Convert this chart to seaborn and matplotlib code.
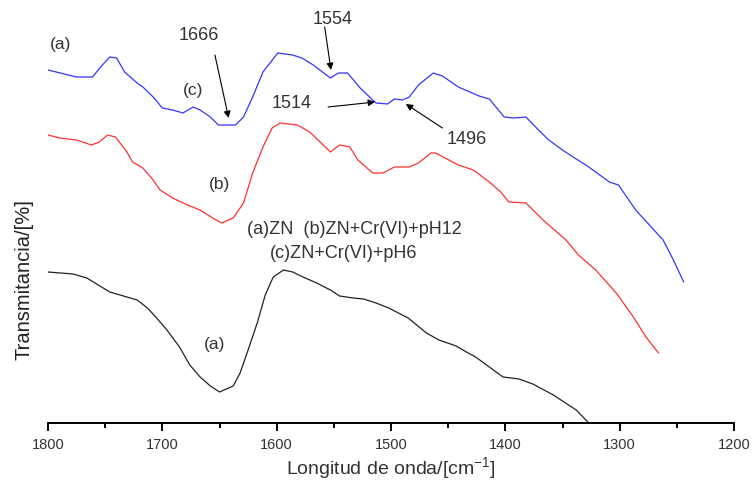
import pandas as pd
import matplotlib
matplotlib.use("Agg")
import matplotlib.pyplot as plt
import seaborn as sns

# FTIR spectra (wavenumber in cm-1, transmittance in arbitrary units)
wn_c = [1800, 1775, 1761, 1754, 1746, 1740, 1733, 1722, 1717, 1708, 1700, 1691, 1682, 1673,
        1667, 1658, 1651, 1636, 1629, 1621, 1612, 1599, 1586, 1578, 1568, 1553, 1546, 1538,
        1527, 1516, 1513, 1503, 1497, 1490, 1484, 1476, 1463, 1455, 1441, 1423, 1414, 1401,
        1393, 1382, 1371, 1362, 1350, 1338, 1327, 1309, 1301, 1286, 1274, 1262, 1253, 1244]
tr_c = [353, 346, 346, 356, 366, 365, 351, 340, 336, 326, 315, 313, 310, 316,
        313, 306, 298, 298, 306, 326, 351, 370, 368, 365, 358, 345, 350, 350,
        335, 323, 320, 319, 324, 323, 326, 338, 350, 347, 336, 327, 324, 306,
        305, 306, 293, 283, 273, 264, 256, 241, 238, 213, 198, 183, 163, 141]

wn_b = [1800, 1790, 1775, 1762, 1755, 1748, 1741, 1731, 1726, 1717, 1708, 1702, 1691, 1678,
        1667, 1656, 1648, 1638, 1629, 1621, 1612, 1604, 1597, 1582, 1571, 1562, 1553, 1545,
        1536, 1529, 1516, 1507, 1497, 1484, 1476, 1465, 1461, 1441, 1428, 1414, 1404, 1397,
        1382, 1367, 1347, 1336, 1321, 1303, 1288, 1277, 1266]
tr_b = [288, 285, 283, 278, 281, 288, 286, 271, 261, 255, 243, 233, 225, 218,
        213, 205, 200, 205, 220, 250, 276, 295, 300, 298, 291, 281, 271, 278,
        276, 263, 250, 250, 256, 256, 260, 270, 270, 258, 253, 241, 231, 221,
        220, 203, 183, 168, 153, 130, 106, 86, 70]

wn_a = [1800, 1778, 1766, 1746, 1734, 1722, 1713, 1705, 1696, 1685, 1676, 1667, 1658, 1650,
        1638, 1632, 1625, 1617, 1610, 1603, 1594, 1586, 1577, 1565, 1553, 1545, 1533, 1524,
        1513, 1502, 1485, 1469, 1458, 1443, 1434, 1426, 1414, 1402, 1388, 1376, 1358, 1338,
        1327, 1322]
tr_a = [151, 149, 145, 131, 127, 123, 115, 105, 93, 76, 58, 46, 37, 31,
        37, 50, 73, 100, 128, 146, 153, 151, 146, 140, 133, 127, 125, 124,
        120, 115, 105, 90, 83, 77, 71, 66, 56, 46, 44, 39, 28, 13,
        0, -6]

xticks = [1800, 1700, 1600, 1500, 1400, 1300, 1200]

df = pd.concat([
    pd.DataFrame({"wn": wn_a, "tr": tr_a, "muestra": "a"}),
    pd.DataFrame({"wn": wn_b, "tr": tr_b, "muestra": "b"}),
    pd.DataFrame({"wn": wn_c, "tr": tr_c, "muestra": "c"}),
])

sns.set_style("white")
plt.rcParams["font.family"] = ["Liberation Sans", "DejaVu Sans"]
plt.rcParams["mathtext.fontset"] = "custom"
plt.rcParams["mathtext.rm"] = "Liberation Sans"
plt.rcParams["mathtext.it"] = "Liberation Sans"

fig = plt.figure(figsize=(7.52, 4.87), dpi=100)
ax = fig.add_axes([48 / 752, 64 / 487, 686 / 752, 423 / 487])

sns.lineplot(data=df, x="wn", y="tr", hue="muestra", sort=False, estimator=None,
             palette={"a": "#222222", "b": "#ff3030", "c": "#3535ff"},
             linewidth=0.9, legend=False, ax=ax)

ax.set_xlim(1800, 1200)
ax.set_ylim(0, 423)
ax.set_xticks(xticks)
ax.set_xticks(range(1750, 1200, -100), minor=True)
ax.set_xticklabels([str(t) for t in xticks], fontsize=10.5, color="#333333")
ax.tick_params(axis="x", which="major", direction="out", length=6, width=1.4,
               pad=5, color="black", bottom=True)
ax.tick_params(axis="x", which="minor", direction="out", length=3.5, width=1.4,
               color="black", bottom=True)
ax.set_yticks([])
for s in ["left", "top", "right"]:
    ax.spines[s].set_visible(False)
ax.spines["bottom"].set_linewidth(1.4)
ax.spines["bottom"].set_color("black")

ax.set_xlabel("Longitud de onda/[cm$^{-1}$]", fontsize=14, color="#333333", labelpad=2)
ax.set_ylabel("")
fig.text(24 / 752, 1 - 280 / 487, "Transmitancia/[%]", rotation=90, ha="center",
         va="center", fontsize=14.5, color="#222222")

tc = "#333333"
ax.text(1789, 378, "(a)", fontsize=12.5, color=tc, ha="center", va="center")
ax.text(1673, 332, "(c)", fontsize=12.5, color=tc, ha="center", va="center")
ax.text(1650, 238, "(b)", fontsize=12.5, color=tc, ha="center", va="center")
ax.text(1654, 79, "(a)", fontsize=12.5, color=tc, ha="center", va="center")
ax.text(1626, 194, "(a)ZN  (b)ZN+Cr(VI)+pH12", fontsize=13, color=tc, ha="left", va="center")
ax.text(1606, 170, "(c)ZN+Cr(VI)+pH6", fontsize=13, color=tc, ha="left", va="center")

ax.text(1668, 388, "1666", fontsize=13, color=tc, ha="center", va="center")
ax.text(1551, 403, "1554", fontsize=13, color=tc, ha="center", va="center")
ax.text(1587, 320, "1514", fontsize=13, color=tc, ha="center", va="center")
ax.text(1434, 283, "1496", fontsize=13, color=tc, ha="center", va="center")

arrow = dict(arrowstyle="-|>", color="black", lw=0.8, mutation_scale=10,
             shrinkA=0, shrinkB=0)
ax.annotate("", xy=(1642, 305), xytext=(1654, 368), arrowprops=arrow)
ax.annotate("", xy=(1552.5, 353), xytext=(1558, 396), arrowprops=arrow)
ax.annotate("", xy=(1514, 321), xytext=(1555, 316), arrowprops=arrow)
ax.annotate("", xy=(1487, 319), xytext=(1455, 295), arrowprops=arrow)

plt.savefig("out.png", dpi=100)
